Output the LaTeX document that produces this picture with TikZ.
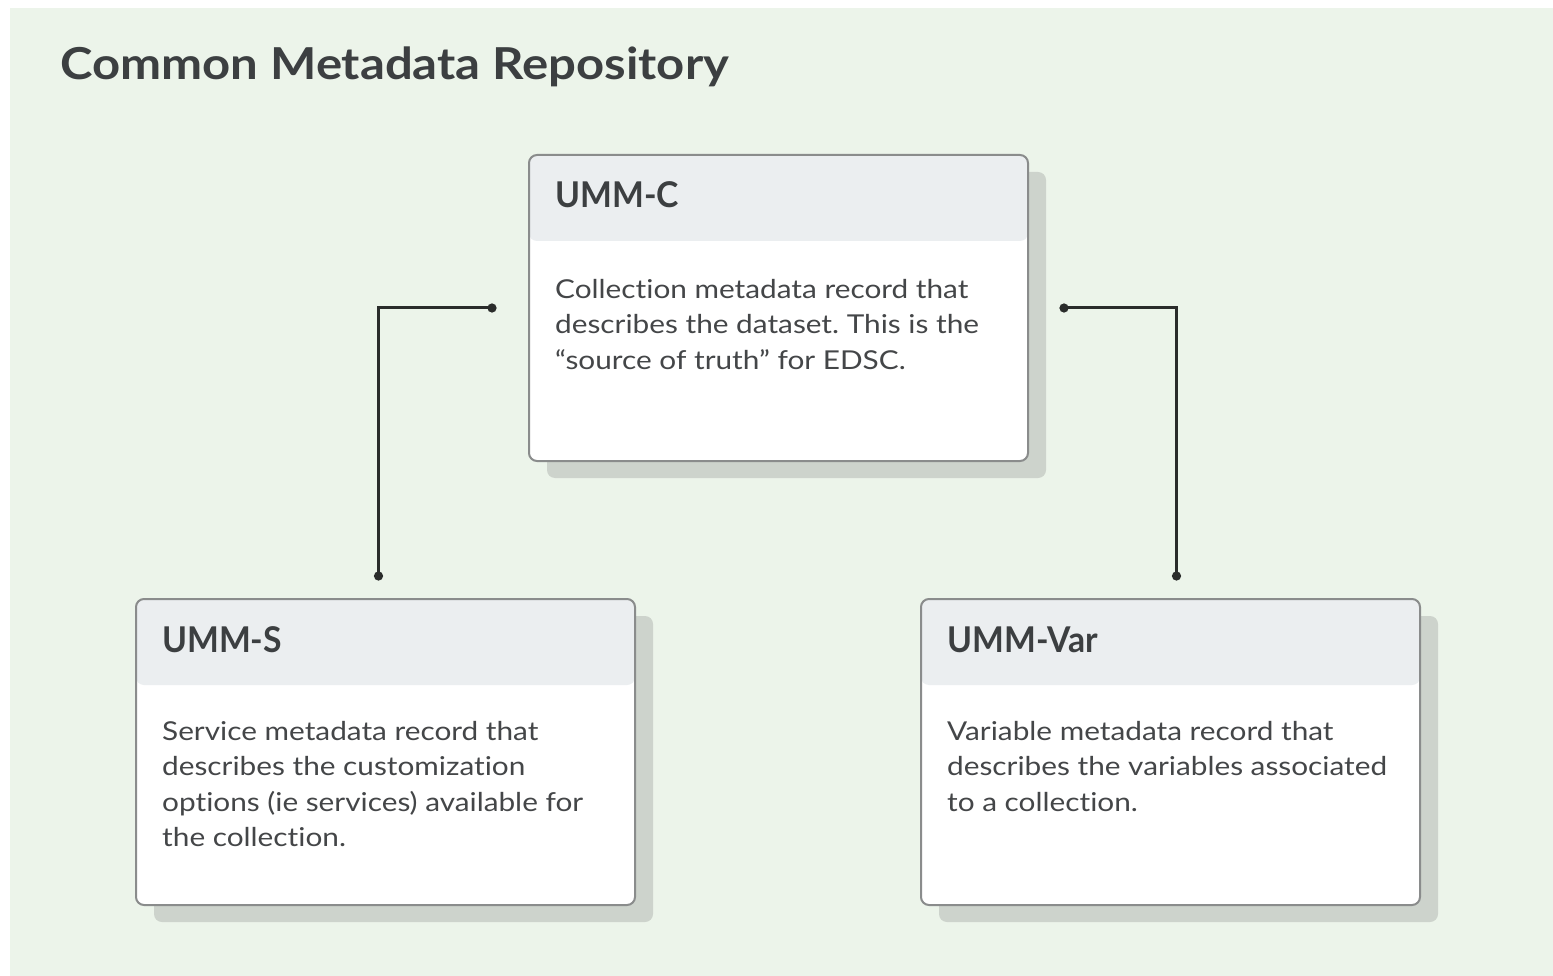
\documentclass[tikz,border=0pt]{standalone}
\usepackage{fontspec}
\setmainfont{Lato}[Ligatures={TeX,NoCommon}]
\newfontfamily\bodyfont{Lato}[Ligatures={TeX,NoCommon}, FakeStretch=1.145]
\newfontfamily\titlefont{Lato}[Ligatures={TeX,NoCommon}, FakeStretch=1.115]
\newfontfamily\headfont{Lato}[Ligatures={TeX,NoCommon}, FakeStretch=0.95]
\usetikzlibrary{positioning,calc,shadows,arrows.meta}

\definecolor{bggreen}{HTML}{ECF4EA}
\definecolor{headgray}{HTML}{EBEEF0}
\definecolor{shadowgray}{HTML}{CDD3CC}
\definecolor{bordergray}{HTML}{8A8C8C}
\definecolor{inkgray}{HTML}{3C3F41}
\definecolor{textgray}{HTML}{444648}
\definecolor{linkdark}{HTML}{2A2C2B}

\tikzset{
    card/.style={draw=bordergray, line width=2pt, fill=white, rounded corners=8pt,
        minimum width=499pt, minimum height=306pt, inner sep=0pt, anchor=north west,
        path picture={\fill[headgray] (path picture bounding box.north west)
            rectangle ([yshift=-86pt]path picture bounding box.north east);},
        drop shadow={shadow xshift=18pt, shadow yshift=-17pt, fill=shadowgray, opacity=1}},
    cardhead/.style={anchor=base west, inner sep=0pt, text=inkgray,
        font=\headfont\bfseries\fontsize{35.5}{42}\selectfont},
    cardtext/.style={anchor=north west, inner sep=0pt, align=left, text=textgray,
        font=\bodyfont\fontsize{26}{35.5}\selectfont},
    link/.style={draw=linkdark, line width=3pt, {Circle[length=9pt]}-{Circle[length=9pt]}}
}

\begin{document}
\frenchspacing
\begin{tikzpicture}[x=1pt, y=-1pt]
    \useasboundingbox (0,0) rectangle (1553,976);
    \fill[white] (0,0) rectangle (1553,976);
    \fill[bggreen] (10,8) rectangle (1553,976);

    \node[anchor=base west, inner sep=0pt, text=inkgray, font=\titlefont\bfseries\fontsize{44}{50}\selectfont]
        (title) at (60,80) {Common Metadata Repository};

    % the three records
    \node[card] (c) at (528,154) {};
    \node[card] (s) at (135,598) {};
    \node[card] (v) at (920,598) {};

    \node[cardhead] (chead) at ($(c.north west)+(27,54)$) {UMM-C};
    \node[cardhead] (shead) at ($(s.north west)+(27,54)$) {UMM-S};
    \node[cardhead] (vhead) at ($(v.north west)+(27,54)$) {UMM-Var};

    \node[cardtext] (ctext) at ($(c.north west)+(27,125)$)
        {Collection metadata record that\\describes the dataset. This is the\\“source of truth” for EDSC.};
    \node[cardtext] (stext) at ($(s.north west)+(27,123)$)
        {Service metadata record that\\describes the customization\\options (ie services) available for\\the collection.};
    \node[cardtext] (vtext) at ($(v.north west)+(27,123)$)
        {Variable metadata record that\\describes the variables associated\\to a collection.};

    % connectors
    \coordinate (cl) at ($(c.west)+(-31.5,0)$);
    \coordinate (cr) at ($(c.east)+(30.5,0)$);
    \coordinate (sl) at ($(s.north)+(-7,-17.5)$);
    \coordinate (vr) at ($(v.north)+(6,-17.5)$);
    \draw[link] (cl) -| (sl);
    \draw[link] (cr) -| (vr);
\end{tikzpicture}
\end{document}
